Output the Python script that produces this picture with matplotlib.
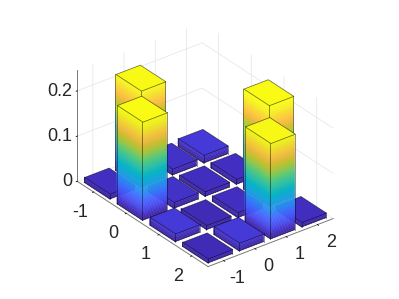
import numpy as np
import matplotlib
matplotlib.use("Agg")
import matplotlib.pyplot as plt
from matplotlib.colors import LinearSegmentedColormap
from mpl_toolkits.mplot3d import proj3d
from mpl_toolkits.mplot3d.art3d import Poly3DCollection

plt.rcParams['font.family'] = ['Liberation Sans', 'DejaVu Sans']
plt.rcParams['axes.unicode_minus'] = False

x_vals = [-1, 0, 1, 2]
y_vals = [-1, 0, 1, 2]
# rows are y, columns are x
heights = [
    [0.012, 0.213, 0.014, 0.018],
    [0.218, 0.014, 0.011, 0.012],
    [0.018, 0.010, 0.012, 0.222],
    [0.010, 0.018, 0.212, 0.011],
]
z_ticks = [0, 0.1, 0.2]
z_labels = ['0', '0.1', '0.2']

parula = LinearSegmentedColormap.from_list("parula", [
    (0.2422, 0.1504, 0.6603), (0.2706, 0.2147, 0.8364), (0.2813, 0.3006, 0.9414),
    (0.2760, 0.3667, 0.9829), (0.2440, 0.4358, 0.9988), (0.1786, 0.5289, 0.9682),
    (0.1540, 0.5902, 0.9218), (0.1113, 0.6635, 0.8763), (0.0297, 0.7082, 0.8163),
    (0.0433, 0.7411, 0.7394), (0.1717, 0.7670, 0.6554), (0.2470, 0.7918, 0.5567),
    (0.3909, 0.8029, 0.4354), (0.5616, 0.7942, 0.3045), (0.7242, 0.7698, 0.1910),
    (0.8634, 0.7406, 0.1596), (0.9728, 0.7298, 0.2394), (0.9952, 0.7893, 0.2028),
    (0.9676, 0.8639, 0.1643), (0.9628, 0.9373, 0.1265), (0.9769, 0.9839, 0.0805),
])

WIDTH = 0.78
ZMAX = 0.245
CMIN = 0.006
CMAX = 0.215
LABEL_COLOR = '#262626'


def colour(z):
    return parula(np.clip((z - CMIN) / (CMAX - CMIN), 0, 1))


def draw_bar(ax, xc, yc, h, order):
    x0, x1 = xc - WIDTH / 2, xc + WIDTH / 2
    y0, y1 = yc - WIDTH / 2, yc + WIDTH / 2
    levels = np.linspace(0, h, max(2, int(h / 0.0025)))
    quads, cols = [], []
    for a, b in zip(levels[:-1], levels[1:]):
        c = colour((a + b) / 2)
        quads.append([(x0, y0, a), (x0, y1, a), (x0, y1, b), (x0, y0, b)])
        cols.append(c)
        quads.append([(x0, y1, a), (x1, y1, a), (x1, y1, b), (x0, y1, b)])
        cols.append(c)
    sides = Poly3DCollection(quads, facecolors=cols, edgecolors=cols, linewidths=0.3, zorder=order)
    ax.add_collection3d(sides)
    top = Poly3DCollection([[(x0, y0, h), (x1, y0, h), (x1, y1, h), (x0, y1, h)]],
                           facecolors=[colour(h)], edgecolors=(0, 0, 0, 0.55),
                           linewidths=0.55, zorder=order + 0.2)
    ax.add_collection3d(top)
    for e in ([(x0, y1, 0), (x0, y1, h)], [(x0, y0, 0), (x0, y0, h)], [(x1, y1, 0), (x1, y1, h)],
              [(x0, y0, 0), (x0, y1, 0)], [(x0, y1, 0), (x1, y1, 0)]):
        e = np.array(e)
        ax.plot(e[:, 0], e[:, 1], e[:, 2], color=(0, 0, 0, 0.55), lw=0.55, zorder=order + 0.1)


def add_label(ax, x, y, z, s, ha='center'):
    # mplot3d resets tick label transforms, so labels are projected by hand
    px, py, _ = proj3d.proj_transform(x, y, z, ax.get_proj())
    ax.text2D(px, py, s, transform=ax.transData, ha=ha, va='center', fontsize=13, color=LABEL_COLOR)


fig = plt.figure(figsize=(3.99, 2.99), dpi=100)
ax = fig.add_axes([0.004, 0.003, 1, 1], projection='3d', proj_type='ortho', computed_zorder=False)
ax.view_init(elev=30, azim=-127.5)
ax.set_box_aspect((157.6, 215, 128), zoom=0.96)
ax.set_xlim(-1.5, 2.5)
ax.set_ylim(2.5, -1.5)
ax.set_zlim(0, ZMAX)

# back to front: far corner is x max, y min
cells = [(i, j) for j in range(4) for i in range(4)]
cells.sort(key=lambda c: c[1] - c[0])
for n, (i, j) in enumerate(cells):
    draw_bar(ax, x_vals[i], y_vals[j], heights[j][i], 10 + n)

ax.set_xticks(x_vals)
ax.set_yticks(y_vals)
ax.set_zticks(z_ticks)
for axis in (ax.xaxis, ax.yaxis, ax.zaxis):
    axis.set_major_formatter(plt.NullFormatter())
for v in x_vals:
    add_label(ax, v, 2.91, -0.021, str(v))
for v in y_vals:
    add_label(ax, -1.93, v, -0.033, str(v))
for v, s in zip(z_ticks, z_labels):
    add_label(ax, -1.65, -1.5, v + 0.0025, s, ha='right')

for axis in (ax.xaxis, ax.yaxis, ax.zaxis):
    axis.set_pane_color((1, 1, 1, 0))
    axis.pane.set_edgecolor((1, 1, 1, 0))
    axis.line.set_color('#7a7a7a')
    axis.line.set_linewidth(0.7)
    axis._axinfo['grid'].update(color='#e8e8e8', linewidth=0.6)
    axis._axinfo['tick'].update(inward_factor=0.1, outward_factor=0.0)
    axis._axinfo['tick']['linewidth'] = {True: 0.6, False: 0.4}
    axis._axinfo['tick']['color'] = '#7a7a7a'

fig.savefig("out.png", dpi=100)
